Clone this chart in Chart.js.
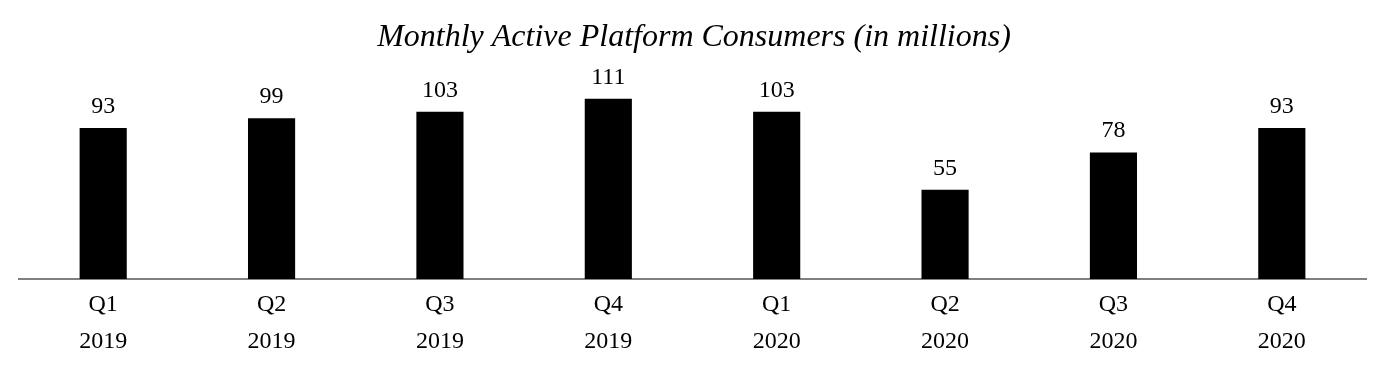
<!DOCTYPE html>
<html>
<head>
<meta charset="utf-8">
<script src="https://cdn.jsdelivr.net/npm/chart.js@4"></script>
<style>
html,body{margin:0;padding:0;background:#fff;}
#wrap{width:1386px;height:372px;position:relative;}
</style>
</head>
<body>
<div id="wrap"><canvas id="c" width="1386" height="372"></canvas></div>
<script>
const quarters = ['Q1','Q2','Q3','Q4','Q1','Q2','Q3','Q4'];
const years = ['2019','2019','2019','2019','2020','2020','2020','2020'];
const consumers = [93, 99, 103, 111, 103, 55, 78, 93];
const titleText = 'Monthly Active Platform Consumers (in millions)';

const labels = quarters.map((q, i) => [q, years[i]]);
const FONT = "'Liberation Serif', 'Times New Roman', serif";

const titlePlugin = {
  id: 'titlePlugin',
  afterDraw(chart) {
    const ctx = chart.ctx;
    ctx.save();
    ctx.font = "italic 32px " + FONT;
    ctx.fillStyle = '#000';
    ctx.textAlign = 'center';
    ctx.textBaseline = 'alphabetic';
    ctx.fillText(titleText, 694, 46);
    ctx.restore();
  }
};

const valueLabels = {
  id: 'valueLabels',
  afterDatasetsDraw(chart) {
    const ctx = chart.ctx;
    const meta = chart.getDatasetMeta(0);
    ctx.save();
    ctx.font = "24px " + FONT;
    ctx.fillStyle = '#000';
    ctx.textAlign = 'center';
    ctx.textBaseline = 'alphabetic';
    meta.data.forEach((bar, i) => {
      ctx.fillText(String(chart.data.datasets[0].data[i]), bar.x, bar.y - 15);
    });
    ctx.restore();
  }
};

new Chart(document.getElementById('c'), {
  type: 'bar',
  data: {
    labels: labels,
    datasets: [{
      data: consumers,
      backgroundColor: '#000000',
      borderWidth: 0,
      barPercentage: 0.28,
      categoryPercentage: 1.0
    }]
  },
  options: {
    responsive: false,
    animation: false,
    devicePixelRatio: 1,
    layout: { padding: { top: 68, left: 19, right: 20, bottom: 0 } },
    plugins: { legend: { display: false }, title: { display: false }, tooltip: { enabled: false } },
    scales: {
      x: {
        grid: { display: false, drawTicks: false },
        border: { display: true, color: '#808080', width: 2 },
        ticks: { color: '#000', font: { family: FONT, size: 24, lineHeight: 1.54 }, padding: 7, maxRotation: 0, autoSkip: false },
        afterFit(scale) { scale.height = 93; }
      },
      y: {
        display: false,
        min: 0,
        max: 130
      }
    }
  },
  plugins: [titlePlugin, valueLabels]
});
</script>
</body>
</html>
